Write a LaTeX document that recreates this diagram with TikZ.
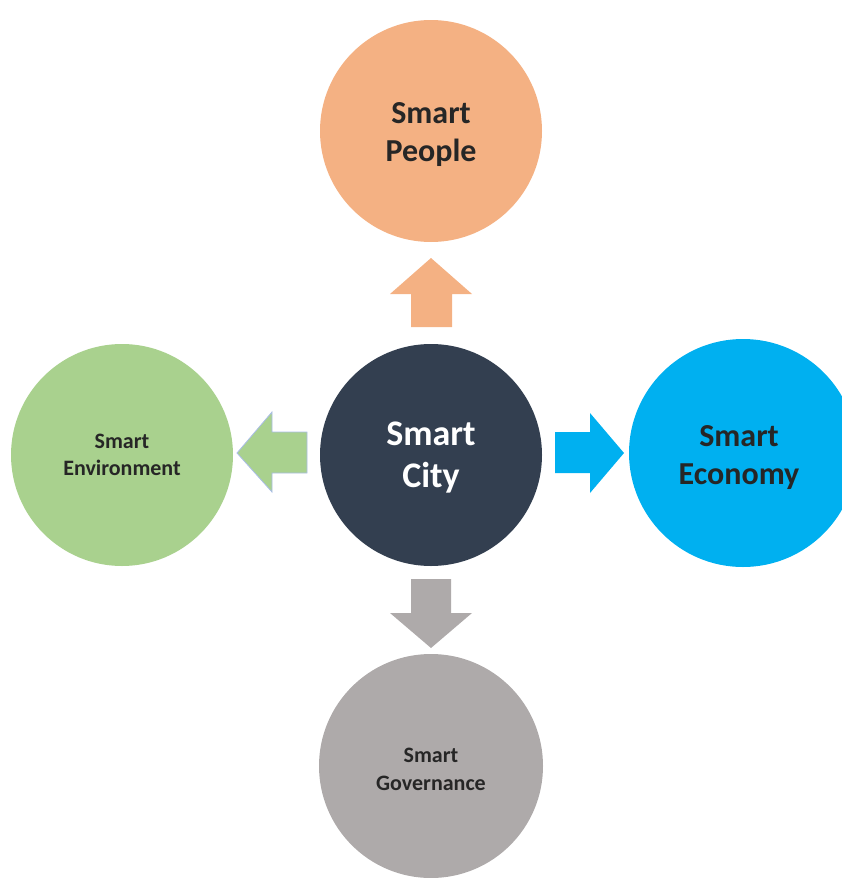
\documentclass[tikz,border=0pt]{standalone}
\usepackage{fontspec}
\setmainfont{Carlito}
\definecolor{cPeople}{HTML}{F4B183}
\definecolor{cCity}{HTML}{333F50}
\definecolor{cEcon}{HTML}{00B0F0}
\definecolor{cEnv}{HTML}{A9D18E}
\definecolor{cGov}{HTML}{AEAAAA}
\definecolor{cText}{HTML}{262626}
\definecolor{cEdge}{HTML}{A9BDE8}
\begin{document}
\begin{tikzpicture}[x=1pt,y=-1pt,
  bubble/.style={circle,minimum size=222pt,inner sep=0pt},
  txt/.style={align=center,inner sep=0pt,text=cText},
  big/.style={font=\fontsize{32}{38}\selectfont\bfseries},
  small/.style={font=\fontsize{22}{27.5}\selectfont\bfseries}]
\useasboundingbox (0,0) rectangle (842,878);
\node[bubble,fill=cPeople] (people) at (431,131) {};
\node[bubble,fill=cCity] (city) at (431,455) {};
\node[bubble,fill=cEcon,minimum size=228pt] (econ) at (743,453) {};
\node[bubble,fill=cEnv] (env) at (122,455) {};
\node[bubble,fill=cGov,minimum size=224pt] (gov) at (431,766) {};
\node[txt,big] (peopletext) at ([yshift=-3.5pt]people.center) {Smart\\People};
\node[txt,text=white,font=\fontsize{36}{42}\selectfont\bfseries] (citytext) at ([yshift=-3pt]city.center) {Smart\\City};
\node[txt,big] (econtext) at ([xshift=-4pt,yshift=-4.5pt]econ.center) {Smart\\Economy};
\node[txt,small] (envtext) at (env.center) {Smart\\Environment};
\node[txt,small] (govtext) at ([yshift=-3.5pt]gov.center) {Smart\\Governance};
% arrows
\fill[cPeople] (411,327) -- (411,294) -- (390,294) -- (431,258) -- (472,294) -- (452,294) -- (452,327) -- cycle;
\fill[cEcon] (555,432) -- (590,432) -- (590,413) -- (624,453) -- (590,493) -- (590,473) -- (555,473) -- cycle;
\filldraw[fill=cEnv,draw=cEdge,line width=0.8pt] (307,432) -- (272,432) -- (272,412) -- (237,453) -- (272,492) -- (272,473) -- (307,473) -- cycle;
\fill[cGov] (411,579) -- (451,579) -- (451,613) -- (472,613) -- (431,648) -- (390,613) -- (411,613) -- cycle;
\end{tikzpicture}
\end{document}
